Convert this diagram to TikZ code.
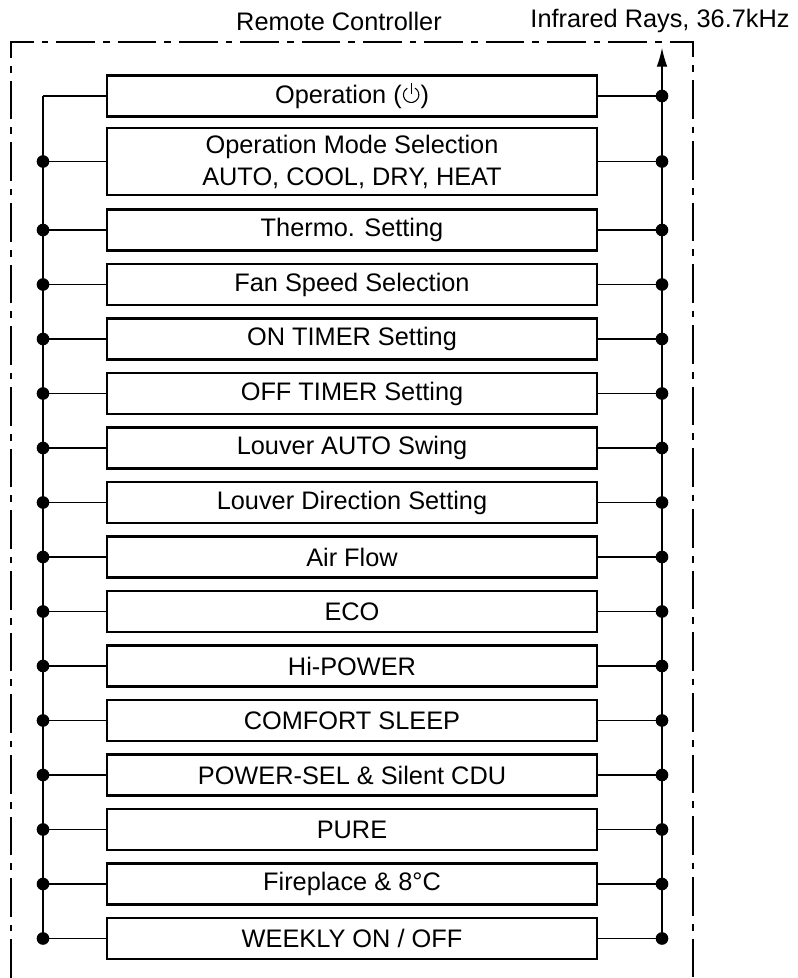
\documentclass[tikz,border=0pt]{standalone}
\usepackage{fontspec}
\setmainfont{Liberation Sans}
\usetikzlibrary{arrows.meta}
\newcommand{\pwrsym}{\tikz[baseline=-6.8pt,line width=0.8pt]{\draw (60:5.8pt) arc[start angle=60,end angle=-240,radius=5.8pt]; \draw (0pt,0.5pt)--(0pt,8.5pt);}}

\begin{document}
\begin{tikzpicture}[x=0.75pt,y=-0.75pt,font=\fontsize{19}{24}\selectfont,
    box/.style={draw,line width=1.8pt,minimum width=367.5pt,minimum height=30.5pt,inner sep=0pt,align=center},
    frame/.style={line width=1.9pt,dash pattern=on 29pt off 6pt on 5pt off 6pt},
    wire/.style={line width=0.8pt},
    dot/.style={circle,fill,inner sep=0pt,minimum size=9.5pt}]
      \useasboundingbox (0,0) rectangle (798,978);
      \coordinate(LB)at(43,0);\coordinate(RB)at(662,0);\coordinate(IR)at(662,48);
      \draw[frame] (11,978)--(11,42)--(693,42)--(693,978);
      \node (RC) at (339,21) {Remote Controller};
      \node (IRT) at (660,21) {Infrared Rays, 36.7kHz};
      \node[box] (B1) at (352,96) {Operation (\pwrsym)};
      \node[box,minimum height=50pt] (B2) at (352,161.5) {Operation Mode Selection\\AUTO, COOL, DRY, HEAT};
      \foreach \T [count=\i from 3] in {Thermo. Setting, Fan Speed Selection, ON TIMER Setting,
          OFF TIMER Setting, Louver AUTO Swing, Louver Direction Setting, Air Flow, ECO,
          Hi-POWER, COMFORT SLEEP, POWER-SEL \& Silent CDU, PURE, Fireplace \& 8°C, WEEKLY ON / OFF}{
        \node[box] (B\i) at (352,{230+54.5*(\i-3)}) {\T};
      }
      \foreach \i in {1,...,16}{
        \draw[wire] (B\i.west)--(B\i.west -| LB) coordinate (L\i);
        \draw[wire] (B\i.east)--(B\i.east -| RB) coordinate (R\i);
        \node[dot] at (R\i) {};
      }
      \foreach \i in {2,...,16}{\node[dot] at (L\i) {};}
      \draw[wire] (L1)--(L16);
      \draw[wire,-{Latex[length=14pt,width=8pt]}] (R16)--(IR);
    \end{tikzpicture}
\end{document}
